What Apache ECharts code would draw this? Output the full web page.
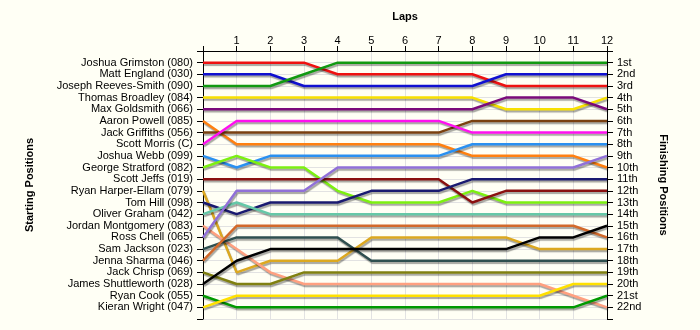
<!DOCTYPE html>
<html><head><meta charset="utf-8">
<script src="https://cdn.jsdelivr.net/npm/echarts@6/dist/echarts.min.js"></script>
<style>html,body{margin:0;padding:0;background:#fffff5;}#c{width:700px;height:330px;}</style>
</head><body><div id="c"></div>
<script>
// Lap numbers (x values)
const laps = [0,1,2,3,4,5,6,7,8,9,10,11,12];
// Starting order (labels on left axis)
const startNames = [
 "Joshua Grimston (080)","Matt England (030)","Joseph Reeves-Smith (090)","Thomas Broadley (084)",
 "Max Goldsmith (066)","Aaron Powell (085)","Jack Griffiths (056)","Scott Morris (C)",
 "Joshua Webb (099)","George Stratford (082)","Scott Jeffs (019)","Ryan Harper-Ellam (079)",
 "Tom Hill (098)","Oliver Graham (042)","Jordan Montgomery (083)","Ross Chell (065)",
 "Sam Jackson (023)","Jenna Sharma (046)","Jack Chrisp (069)","James Shuttleworth (028)",
 "Ryan Cook (055)","Kieran Wright (047)"];
// Finishing labels (right axis)
const finishLabels = ["1st","2nd","3rd","4th","5th","6th","7th","8th","9th","10th","11th",
 "12th","13th","14th","15th","16th","17th","18th","19th","20th","21st","22nd"];
// Position per lap (lap 0 .. lap 12)
const grimston     = [1,1,1,1,2,2,2,2,2,3,3,3,3];
const england      = [2,2,2,3,3,3,3,3,3,2,2,2,2];
const reevesSmith  = [3,3,3,2,1,1,1,1,1,1,1,1,1];
const broadley     = [4,4,4,4,4,4,4,4,4,5,5,5,4];
const goldsmith    = [5,5,5,5,5,5,5,5,5,4,4,4,5];
const powell       = [6,8,8,8,8,8,8,8,9,9,9,9,10];
const griffiths    = [7,7,7,7,7,7,7,7,6,6,6,6,6];
const morris       = [8,6,6,6,6,6,6,6,7,7,7,7,7];
const webb         = [9,10,9,9,9,9,9,9,8,8,8,8,8];
const stratford    = [10,9,10,10,12,13,13,13,12,13,13,13,13];
const jeffs        = [11,11,11,11,11,11,11,11,13,12,12,12,12];
const harperEllam  = [12,19,18,18,18,16,16,16,16,16,17,17,17];
const hill         = [13,14,13,13,13,12,12,12,11,11,11,11,11];
const graham       = [14,13,14,14,14,14,14,14,14,14,14,14,14];
const montgomery   = [15,17,19,20,20,20,20,20,20,20,20,21,22];
const chell        = [16,12,12,12,10,10,10,10,10,10,10,10,9];
const jackson      = [17,16,16,16,16,18,18,18,18,18,18,18,18];
const sharma       = [18,15,15,15,15,15,15,15,15,15,15,15,16];
const chrisp       = [19,20,20,19,19,19,19,19,19,19,19,19,19];
const shuttleworth = [20,18,17,17,17,17,17,17,17,17,16,16,15];
const cook         = [21,22,22,22,22,22,22,22,22,22,22,22,21];
const wright       = [22,21,21,21,21,21,21,21,21,21,21,20,20];

const seriesData = [grimston,england,reevesSmith,broadley,goldsmith,powell,griffiths,morris,webb,
 stratford,jeffs,harperEllam,hill,graham,montgomery,chell,jackson,sharma,chrisp,shuttleworth,cook,wright];
const colors = ["#ee1111","#1010d0","#119911","#f8e000","#7a0a7a","#ff8010","#7a4010","#ff10f0",
 "#2a90f0","#7cf010","#8a1010","#dca820","#1a1a70","#66c8a8","#ffa080","#9070d8",
 "#2f4f4f","#d2692a","#808010","#000000","#009900","#ffe000"];

const font = "'Liberation Sans', Arial, sans-serif";
const chart = echarts.init(document.getElementById('c'), null, {renderer:'canvas'});
const yBase = {
  type:'value', min:0, max:23, interval:1, inverse:true,
  axisLine:{show:true, lineStyle:{color:'#000', width:1}},
  axisTick:{show:true, length:6, lineStyle:{color:'#000'}},
  nameLocation:'middle',
  nameTextStyle:{fontFamily:font, fontSize:11, fontWeight:'bold', color:'#000'}
};
chart.setOption({
  backgroundColor:'#fffff5',
  animation:false,
  grid:{left:203, right:93, top:51, bottom:11, containLabel:false},
  xAxis:{
    type:'value', position:'top', min:0, max:12, interval:1,
    name:'Laps', nameLocation:'middle', nameGap:29,
    nameTextStyle:{fontFamily:font, fontSize:11, fontWeight:'bold', color:'#000'},
    axisLine:{show:true, lineStyle:{color:'#000', width:1}},
    axisTick:{show:true, length:5, lineStyle:{color:'#000'}},
    axisLabel:{fontFamily:font, fontSize:11, color:'#000', margin:5,
      formatter:v=> v===0 ? '' : String(laps[v])},
    splitLine:{show:true, lineStyle:{color:'#e2e2e2', width:1}}
  },
  yAxis:[
    Object.assign({}, yBase, {
      position:'left', name:'Starting Positions', nameGap:168, nameRotate:90,
      axisLabel:{fontFamily:font, fontSize:11, color:'#000', margin:10,
        formatter:v=> startNames[v-1] || ''},
      splitLine:{show:true, lineStyle:{color:'#e2e2e2', width:1}}
    }),
    Object.assign({}, yBase, {
      position:'right', name:'Finishing Positions', nameGap:51, nameRotate:-90,
      axisLabel:{fontFamily:font, fontSize:11, color:'#000', margin:10,
        formatter:v=> finishLabels[v-1] || ''},
      splitLine:{show:false}
    })
  ],
  series: seriesData.map((arr,i)=>({
    type:'line', name:startNames[i], yAxisIndex:0, symbol:'none', silent:true,
    data: arr.map((p,j)=>[laps[j], p]),
    lineStyle:{width:2.5, color:colors[i], shadowColor:'rgba(0,0,0,0.35)', shadowOffsetX:1, shadowOffsetY:2, shadowBlur:1},
    itemStyle:{color:colors[i]}
  }))
});
</script></body></html>
